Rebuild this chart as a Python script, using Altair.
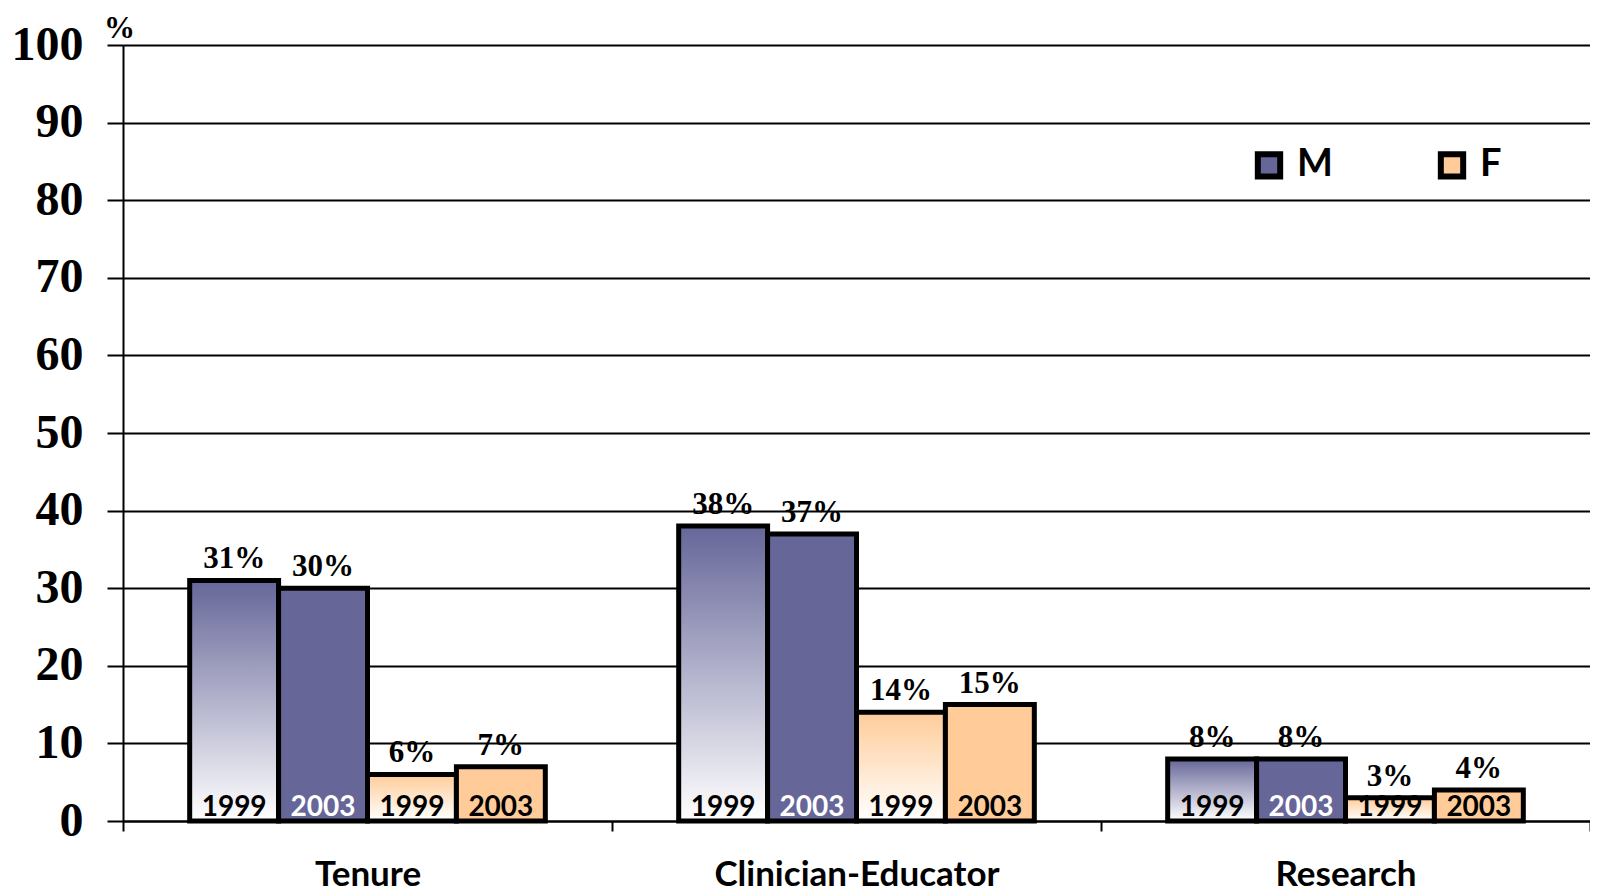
import altair as alt
import pandas as pd

categories = ["Tenure", "Clinician-Educator", "Research"]
series_keys = ["M1999", "M2003", "F1999", "F2003"]
series_sex = ["M", "M", "F", "F"]
series_year = ["1999", "2003", "1999", "2003"]
m_1999 = [31, 38, 8]
m_2003 = [30, 37, 8]
f_1999 = [6, 14, 3]
f_2003 = [7, 15, 4]
y_ticks = [0, 10, 20, 30, 40, 50, 60, 70, 80, 90, 100]

PURPLE = "#666699"
PEACH = "#FFCC99"

rows = []
for key, sex, year, vals in zip(series_keys, series_sex, series_year, [m_1999, m_2003, f_1999, f_2003]):
    for c, v in zip(categories, vals):
        rows.append(dict(category=c, series=key, sex=sex, year=year, value=v, pct=f"{v}%"))
df = pd.DataFrame(rows)

x = alt.X(
    "category:N",
    sort=categories,
    scale=alt.Scale(paddingInner=0, paddingOuter=0),
    axis=alt.Axis(
        title=None, labelAngle=0, tickBand="extent", tickSize=10, tickColor="black",
        tickWidth=2, domainColor="black", domainWidth=2, labelFont="Lato",
        labelFontSize=35, labelFontWeight="bold", labelColor="black", labelPadding=26,
        labelLimit=0,
    ),
)
xo = alt.XOffset(
    "series:N", sort=series_keys,
    scale=alt.Scale(domain=series_keys, paddingInner=0, paddingOuter=0.75),
)
y = alt.Y(
    "value:Q",
    scale=alt.Scale(domain=[0, 100], nice=False),
    axis=alt.Axis(
        values=y_ticks, title="%", titleAngle=0, titleX=-4, titleY=-8,
        titleAlign="center", titleBaseline="alphabetic", titleFont="Liberation Serif",
        titleFontSize=31, titleFontWeight="bold", titleColor="black",
        labelFont="Liberation Serif", labelFontSize=48, labelFontWeight="bold",
        labelColor="black", labelPadding=24, tickSize=16, tickColor="black", tickWidth=2,
        domainColor="black", domainWidth=2, grid=True, gridColor="black", gridWidth=2,
        gridOpacity=1,
    ),
)

base = alt.Chart(df).encode(x=x, xOffset=xo)


def grad(color):
    return {
        "gradient": "linear", "x1": 0, "y1": 0, "x2": 0, "y2": 1,
        "stops": [
            {"offset": 0, "color": color},
            {"offset": 1, "color": "#ffffff"},
        ],
    }


m99 = base.transform_filter("datum.series == 'M1999'").mark_bar(
    fill=grad(PURPLE), stroke="black", strokeWidth=5
).encode(y=y)
f99 = base.transform_filter("datum.series == 'F1999'").mark_bar(
    fill=grad(PEACH), stroke="black", strokeWidth=5
).encode(y=y)
solid = base.transform_filter("datum.year == '2003'").mark_bar(
    stroke="black", strokeWidth=5, opacity=1
).encode(
    y=y,
    color=alt.Color(
        "sex:N",
        scale=alt.Scale(domain=["M", "F"], range=[PURPLE, PEACH]),
        legend=alt.Legend(
            title=None, orient="none", direction="horizontal", legendX=1127, legendY=101,
            symbolType="square", symbolSize=500, symbolStrokeColor="black",
            symbolStrokeWidth=6, symbolOpacity=1, labelFont="Lato", labelFontSize=38,
            labelFontWeight="bold", labelColor="black", labelOffset=9, columnPadding=95,
        ),
    ),
)

pct = base.mark_text(
    font="Liberation Serif", fontSize=31, fontWeight="bold", color="black",
    baseline="alphabetic", dy=-12,
).encode(y=y, text="pct:N")

years = base.mark_text(
    font="Lato", fontSize=28, fontWeight="bold", baseline="alphabetic",
    y="height", dy=-5,
).encode(
    text="year:N",
    color=alt.condition("datum.series == 'M2003'", alt.value("white"), alt.value("black")),
)

chart = alt.layer(m99, f99, solid, pct, years).properties(
    width=1467, height=776, autosize="none",
    padding={"left": 115, "top": 37, "right": 0, "bottom": 70},
    background="white",
).configure_view(stroke=None)

chart.save("out.html", embed_options={"renderer": "svg", "actions": False})
